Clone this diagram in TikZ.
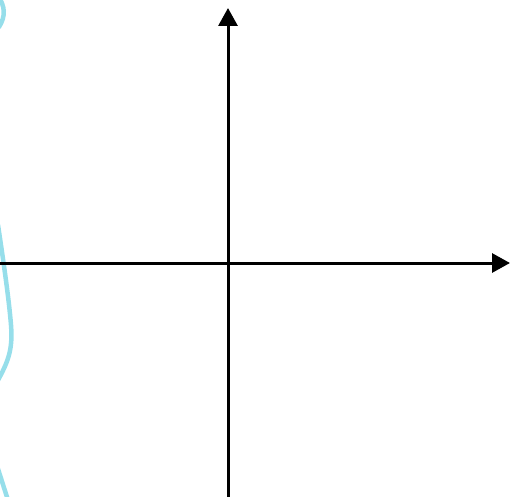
\documentclass[tikz,border=0pt]{standalone}
\usetikzlibrary{arrows.meta}
\definecolor{curvecyan}{RGB}{150,222,234}
\begin{document}
\begin{tikzpicture}[x=1pt,y=-1pt,
  axis/.style={line width=3pt,-{Triangle[length=18pt,width=19pt]}},
  curvestyle/.style={curvecyan,line width=4.5pt,line cap=round}]
\useasboundingbox (0,0) rectangle (511,497);
\begin{scope}
\clip (0,0) rectangle (511,497);
\draw[curvestyle] (-2,-4) .. controls (5,6) and (6,16) .. (-1,27);
\draw[curvestyle] (-2,225) .. controls (4,265) and (9,300) .. (11,325)
  .. controls (13,350) and (8,362) .. (-3,382);
\draw[curvestyle] (-3,466) .. controls (1,478) and (4,488) .. (8,500);
\end{scope}
\coordinate (xs) at (0,263);
\coordinate (xe) at (510,263);
\coordinate (ys) at (228,497);
\coordinate (ye) at (228,8);
\draw[axis] (xs) -- (xe);
\draw[axis] (ys) -- (ye);
\end{tikzpicture}
\end{document}
